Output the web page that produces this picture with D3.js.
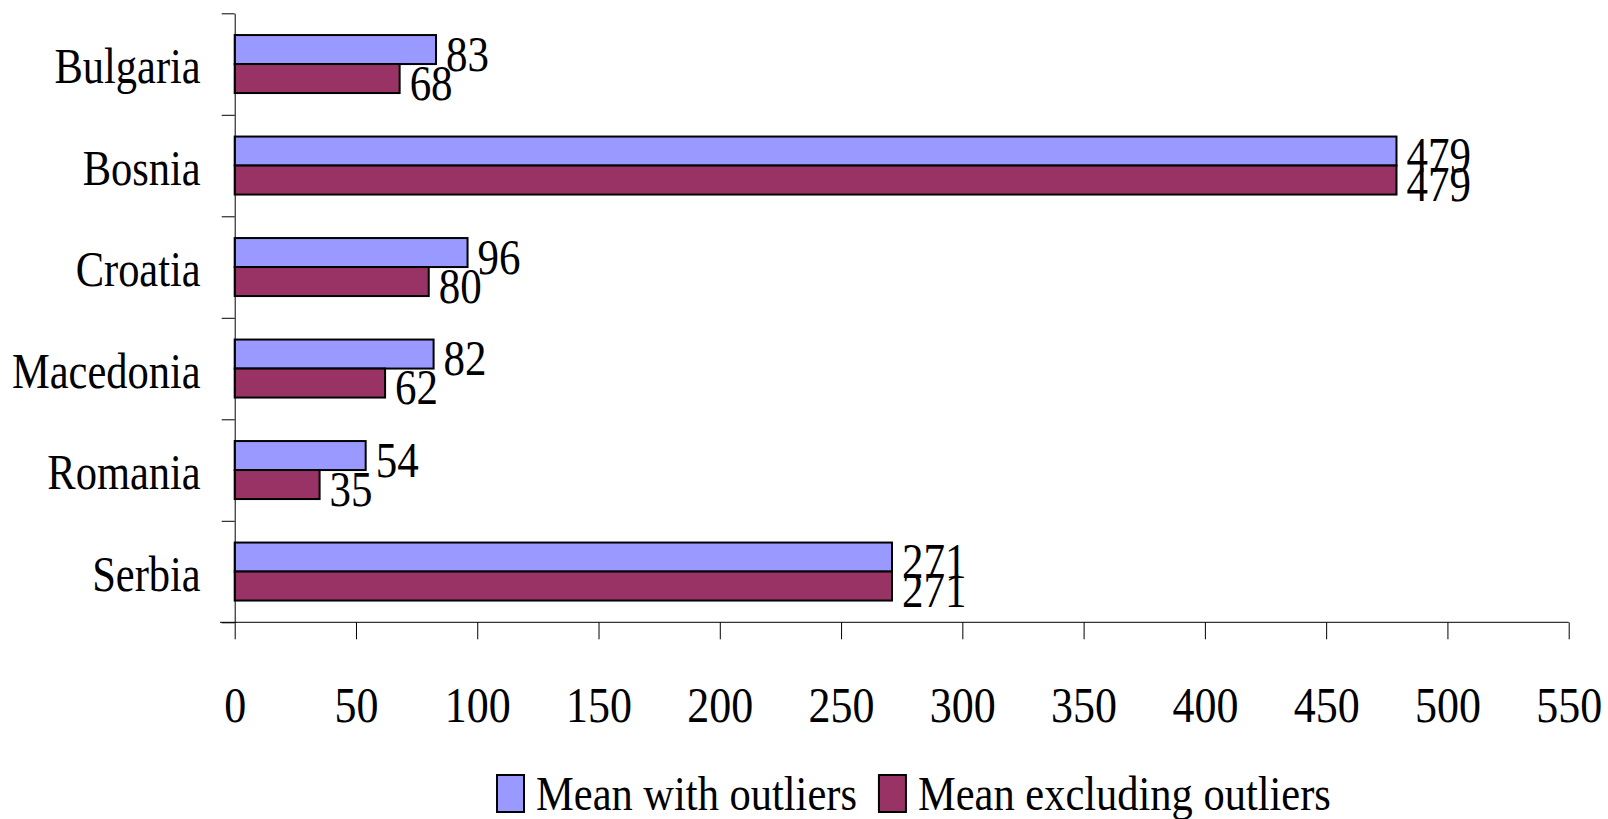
<!DOCTYPE html>
<html>
<head>
<meta charset="utf-8">
<script src="https://cdn.jsdelivr.net/npm/d3@7"></script>
<style>
  body { margin: 0; background: #fff; }
  text { font-family: "Liberation Serif", "Times New Roman", serif; fill: #000; }
</style>
</head>
<body>
<div class="chart"></div>
<script>
// DATA
var countries = ['Bulgaria', 'Bosnia', 'Croatia', 'Macedonia', 'Romania', 'Serbia'];
var withOutliers = [83, 479, 96, 82, 54, 271];
var excludingOutliers = [68, 479, 80, 62, 35, 271];
var seriesNames = ['Mean with outliers', 'Mean excluding outliers'];
var seriesColors = ['#9999FF', '#993366'];
var xTicks = [0, 50, 100, 150, 200, 250, 300, 350, 400, 450, 500, 550];

var W = 1608, H = 819;
var plotL = 234.7, plotR = 1568.7, plotT = 13.3, plotB = 622.3;
var FS = 44, STRETCH = 1.15;   // text in the original is a bit tall

var svg = d3.select('.chart').append('svg')
    .attr('width', W)
    .attr('height', H);

// SCALES
var x = d3.scaleLinear().domain([0, 550]).range([plotL, plotR]);
var y = d3.scaleBand().domain(countries).range([plotT, plotB]).paddingInner(0).paddingOuter(0);
var yEdges = d3.scaleLinear().domain([0, countries.length]).range([plotT, plotB]);
var barH = 29;

// BARS
var rows = countries.map(function(c, i) {
    return { name: c, vals: [withOutliers[i], excludingOutliers[i]] };
});

var rowg = svg.append('g').selectAll('g')
    .data(rows)
    .enter().append('g')
    .attr('transform', function(d) { return 'translate(0,' + (y(d.name) + y.bandwidth() / 2 - barH) + ')'; });

rowg.selectAll('rect')
    .data(function(d) { return d.vals; })
    .enter().append('rect')
    .attr('x', x(0))
    .attr('y', function(d, i) { return i * barH; })
    .attr('width', function(d) { return x(d) - x(0); })
    .attr('height', barH)
    .attr('fill', function(d, i) { return seriesColors[i]; })
    .attr('stroke', '#000')
    .attr('stroke-width', 2);

// VALUE LABELS
rowg.selectAll('text')
    .data(function(d) { return d.vals; })
    .enter().append('text')
    .attr('transform', function(d, i) {
        return 'translate(' + (x(d) + 10) + ',' + (i * barH + barH / 2 + 21) + ') scale(1,1.18)';
    })
    .style('font-size', '43px')
    .text(function(d) { return d; });

// Y AXIS (boundary ticks)
svg.append('g')
    .attr('transform', 'translate(' + plotL + ',0)')
    .call(d3.axisLeft(yEdges).ticks(countries.length).tickFormat('').tickSize(13).tickSizeOuter(0))
    .call(function(g) { g.selectAll('line, path').attr('stroke', '#000'); });

// Y CATEGORY LABELS
var yl = svg.append('g')
    .attr('transform', 'translate(' + plotL + ',0)')
    .call(d3.axisLeft(y).tickSize(0).tickPadding(34));
yl.select('.domain').remove();
yl.selectAll('text')
    .attr('y', 0).attr('dy', null)
    .attr('transform', 'translate(0,19) scale(1,1.19)')
    .style('font-size', '42.5px')
    .style('font-family', '"Liberation Serif", "Times New Roman", serif');

// X AXIS
var xa = svg.append('g')
    .attr('transform', 'translate(0,' + plotB + ')')
    .call(d3.axisBottom(x).tickValues(xTicks).tickSize(17).tickSizeOuter(0));
xa.select('.domain').attr('d', 'M' + (plotL - 14.7) + ',0H' + plotR).attr('stroke', '#000');
xa.selectAll('line').attr('stroke', '#000');
xa.selectAll('text')
    .attr('y', 0).attr('dy', null)
    .attr('transform', 'translate(0,99.5) scale(1,' + STRETCH + ')')
    .style('font-size', FS + 'px')
    .style('font-family', '"Liberation Serif", "Times New Roman", serif');

// LEGEND
var legend = svg.append('g').attr('transform', 'translate(497,0)');
var lx = 0;
seriesNames.forEach(function(name, i) {
    legend.append('rect')
        .attr('x', lx).attr('y', 775)
        .attr('width', 27).attr('height', 37)
        .attr('fill', seriesColors[i])
        .attr('stroke', '#000')
        .attr('stroke-width', 2);
    var t = legend.append('text')
        .attr('transform', 'translate(' + (lx + 39) + ',810) scale(1,' + STRETCH + ')')
        .style('font-size', '42.5px')
        .text(name);
    lx += 39 + t.node().getComputedTextLength() + 22;
});
</script>
</body>
</html>
